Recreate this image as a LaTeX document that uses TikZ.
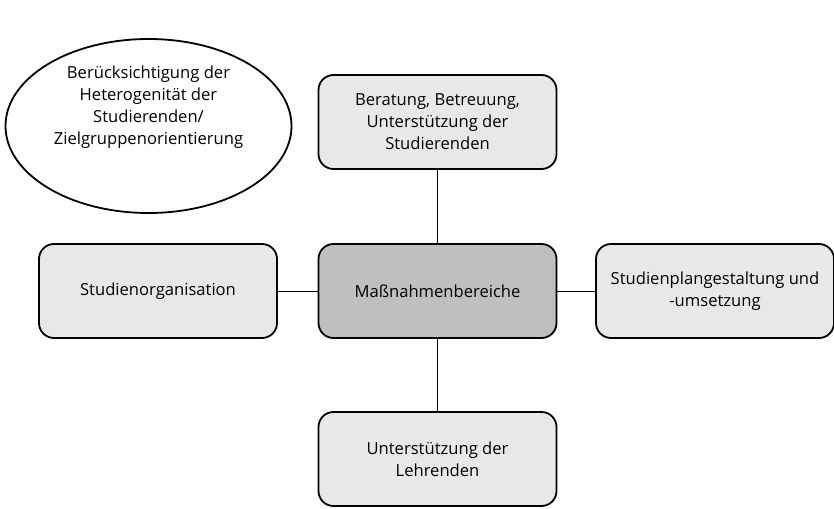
\documentclass[tikz,border=0pt]{standalone}
\usepackage{fontspec}
\setmainfont{Open Sans}
\usetikzlibrary{shapes.geometric}
\begin{document}
\begin{tikzpicture}[x=1pt,y=-1pt,
  box/.style={draw=black, line width=1.8pt, rounded corners=15pt, fill=boxgray,
    minimum width=238pt, minimum height=94pt, align=center, inner sep=0pt,
    font=\fontsize{16.6}{22}\selectfont},
  link/.style={draw=black, line width=0.8pt}]
\definecolor{boxgray}{HTML}{E8E8E8}
\definecolor{midgray}{HTML}{BFBFBF}
\useasboundingbox (0,0) rectangle (834,508);
\node[draw=black, line width=1.8pt, ellipse, minimum width=286pt, minimum height=174pt, inner sep=0pt] (ell) at (148.5,126) {};
\node[align=center, font=\fontsize{16.6}{22}\selectfont] (elltext) at (148.5,107) {Berücksichtigung der\\Heterogenität der\\Studierenden/\\Zielgruppenorientierung};
\node[box] (top) at (437.5,122) {Beratung, Betreuung,\\Unterstützung der\\Studierenden};
\node[box, fill=midgray] (mid) at (437.5,291) {Maßnahmenbereiche};
\node[box] (left) at (158,291) {Studienorganisation};
\node[box] (right) at (715,291) {Studienplangestaltung und\\-umsetzung};
\node[box] (bot) at (437.5,459) {Unterstützung der\\Lehrenden};
\draw[link] (top) -- (mid);
\draw[link] (mid) -- (bot);
\draw[link] (left) -- (mid);
\draw[link] (mid) -- (right);
\end{tikzpicture}
\end{document}
